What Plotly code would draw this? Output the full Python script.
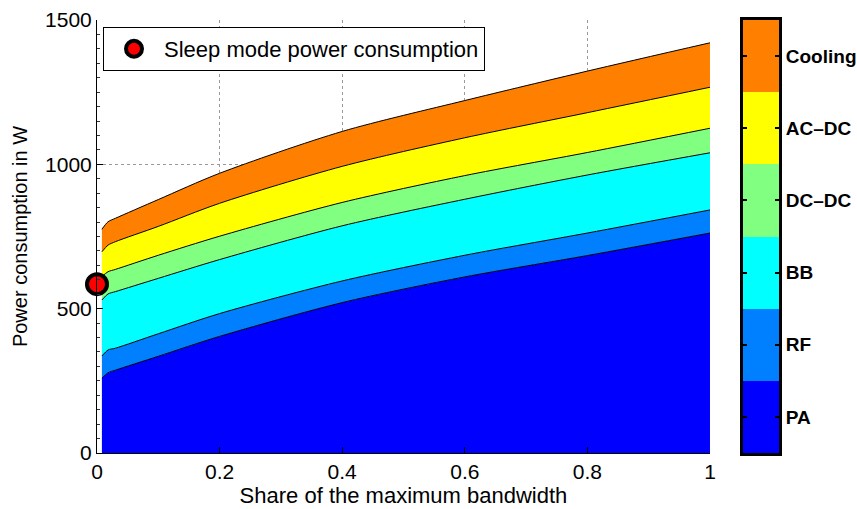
import plotly.graph_objects as go

# Share of the maximum bandwidth (load) sample points
share = [0.008, 0.018, 0.03, 0.1, 0.2, 0.4, 0.6, 0.8, 1.0]

# Power consumption per component in W (stacked bottom to top)
pa = [259, 278, 287, 335, 404, 521, 610, 684, 762]
rf = [77, 79, 76, 78, 79, 75, 75, 78, 80]
bb = [194, 194, 196, 192, 187, 191, 194, 201, 198]
dcdc = [81, 77, 77, 80, 81, 81, 82, 78, 85]
acdc = [86, 92, 96, 100, 114, 125, 131, 138, 142]
cooling = [78, 81, 81, 93, 104, 121, 129, 144, 154]

components = ["PA", "RF", "BB", "DC\u2013DC", "AC\u2013DC", "Cooling"]
colors = ["#0000FF", "#0080FF", "#00FFFF", "#80FF80", "#FFFF00", "#FF8000"]
series = [pa, rf, bb, dcdc, acdc, cooling]

# Sleep mode point
sleep_x = [0]
sleep_y = [585]

x_ticks = [0, 0.2, 0.4, 0.6, 0.8, 1]
x_labels = ["0", "0.2", "0.4", "0.6", "0.8", "1"]
y_ticks = [0, 500, 1000, 1500]
y_labels = ["0", "500", "1000", "1500"]

FONT = "Liberation Sans, Arial, Helvetica, sans-serif"

fig = go.Figure()

for name, vals, col in zip(components, series, colors):
    fig.add_trace(go.Scatter(
        x=share, y=vals, stackgroup="power", name=name,
        mode="lines", line=dict(color="black", width=1, shape="spline", smoothing=0.8),
        fillcolor=col, showlegend=False, hoverinfo="skip",
    ))

fig.add_trace(go.Scatter(
    x=sleep_x, y=sleep_y, mode="markers", name="Sleep mode power consumption",
    marker=dict(color="#FF0000", size=20, line=dict(color="black", width=4)),
    cliponaxis=False, showlegend=True,
))

# Component colour key drawn as a one-column heatmap
n = len(components)
key_pos = [i + 0.5 for i in range(n)]
fig.add_trace(go.Heatmap(
    x=[0], y=key_pos, z=[[i] for i in range(n)],
    zmin=0, zmax=n - 1, colorscale=[[i / (n - 1), c] for i, c in enumerate(colors)],
    showscale=False, xaxis="x2", yaxis="y2", hoverinfo="skip",
))

fig.update_layout(
    width=857, height=509,
    margin=dict(l=97, r=78, t=20, b=56, autoexpand=False),
    paper_bgcolor="white", plot_bgcolor="white",
    font=dict(family=FONT, size=21, color="black"),
    xaxis=dict(
        domain=[0, 0.8988], range=[0, 1], automargin=False,
        tickvals=x_ticks, ticktext=x_labels,
        ticks="inside", ticklen=6, tickcolor="black",
        showline=True, linecolor="black", linewidth=1,
        showgrid=True, gridcolor="#999", griddash="dot", gridwidth=1,
        zeroline=False,
        title=dict(text="Share of the maximum bandwidth", standoff=5, font=dict(size=22)),
        tickfont=dict(size=21),
    ),
    yaxis=dict(
        domain=[0, 1], range=[0, 1500], automargin=False,
        tickvals=y_ticks, ticktext=y_labels,
        ticks="inside", ticklen=6, tickcolor="black",
        minor=dict(ticks="inside", ticklen=3, dtick=50, tickcolor="#333", showgrid=False),
        showline=True, linecolor="black", linewidth=1,
        showgrid=True, gridcolor="#999", griddash="dot", gridwidth=1,
        zeroline=False,
        title=dict(text="Power consumption in W", standoff=12, font=dict(size=20)),
        tickfont=dict(size=21),
    ),
    xaxis2=dict(
        domain=[0.9472, 1], range=[-0.5, 0.5], anchor="y2", automargin=False,
        showticklabels=False, ticks="", showgrid=False, zeroline=False,
        showline=True, mirror=True, linecolor="black", linewidth=3,
    ),
    yaxis2=dict(
        domain=[0, 1], range=[0, n], anchor="x2", side="right", automargin=False,
        tickvals=key_pos, ticktext=["<b>%s</b>" % c for c in components],
        ticks="inside", ticklen=4, tickwidth=2, tickcolor="black",
        showgrid=False, zeroline=False,
        showline=True, mirror="ticks", linecolor="black", linewidth=3,
        tickfont=dict(size=19),
    ),
    legend=dict(
        x=0.0088, y=0.984, xanchor="left", yanchor="top",
        bgcolor="white", bordercolor="black", borderwidth=1,
        font=dict(size=22), itemwidth=50,
    ),
    showlegend=True,
)

fig.write_html("out.html")
